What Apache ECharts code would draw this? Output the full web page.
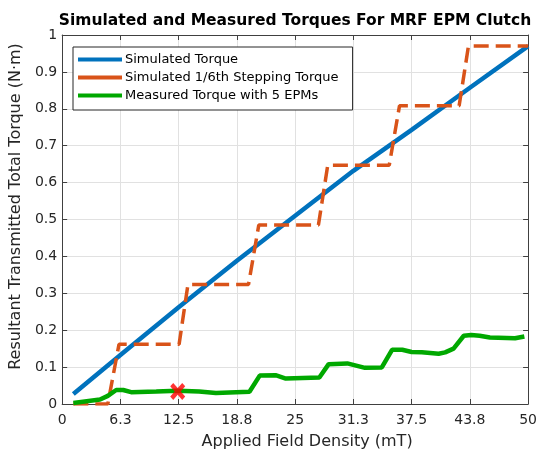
<!DOCTYPE html>
<html>
<head>
<meta charset="utf-8">
<script src="https://cdn.jsdelivr.net/npm/echarts@6/dist/echarts.min.js"></script>
<style>html,body{margin:0;padding:0;background:#fff;}#c{width:540px;height:455px;}</style>
</head>
<body>
<div id="c"></div>
<script>
// ---- data ----
const xTickLabels = ['0', '6.3', '12.5', '18.8', '25', '31.3', '37.5', '43.8', '50'];
const yTickLabels = ['0', '0.1', '0.2', '0.3', '0.4', '0.5', '0.6', '0.7', '0.8', '0.9', '1'];

const simX = [1.2, 6.25, 12.5, 18.75, 25, 31.25, 37.5, 43.75, 50];
const simY = [0.027, 0.133, 0.262, 0.388, 0.51, 0.632, 0.743, 0.857, 0.97];

const stepX = [1.2, 4.9, 6.1, 12.55, 13.5, 20.0, 21.1, 27.5, 28.5, 35.1, 36.2, 42.6, 43.6, 50];
const stepY = [0, 0, 0.162, 0.162, 0.324, 0.324, 0.485, 0.485, 0.647, 0.647, 0.808, 0.808, 0.97, 0.97];

const measX = [1.2, 4.06, 4.9, 5.8, 6.55, 7.4, 10.1, 12.4, 14.7, 16.5, 20.1, 21.2, 22.9, 24.0, 27.6, 28.6, 30.6, 32.5, 34.3, 35.4, 36.5, 37.5, 38.6, 40.4, 41.1, 42.0, 43.1, 43.9, 44.8, 45.9, 48.6, 49.6];
const measY = [0.003, 0.012, 0.022, 0.038, 0.038, 0.032, 0.034, 0.036, 0.034, 0.03, 0.033, 0.077, 0.078, 0.069, 0.072, 0.108, 0.11, 0.098, 0.099, 0.147, 0.147, 0.141, 0.14, 0.136, 0.14, 0.15, 0.185, 0.187, 0.185, 0.18, 0.178, 0.183];

const markX = [12.4];
const markY = [0.034];

const seriesNames = ['Simulated Torque', 'Simulated 1/6th Stepping Torque', 'Measured Torque with 5 EPMs'];
// ---- end data ----

const zip = (xs, ys) => xs.map((x, i) => [x, ys[i]]);
const FONT = 'DejaVu Sans';
const AX = '#404040';
const xInt = 6.25, yInt = 0.1;

const xPath = 'path://M0,20 L20,0 L50,30 L80,0 L100,20 L70,50 L100,80 L80,100 L50,70 L20,100 L0,80 L30,50 Z';

const baseX = {
  type: 'value', min: 0, max: 50, interval: xInt,
  axisLine: { show: true, onZero: false, lineStyle: { color: AX, width: 1 } },
  axisTick: { show: true, inside: true, length: 5, lineStyle: { color: AX } },
};
const baseY = {
  type: 'value', min: 0, max: 1, interval: yInt,
  axisLine: { show: true, onZero: false, lineStyle: { color: AX, width: 1 } },
  axisTick: { show: true, inside: true, length: 5, lineStyle: { color: AX } },
};

const chart = echarts.init(document.getElementById('c'), null, { renderer: 'canvas' });
chart.setOption({
  animation: false,
  backgroundColor: '#fff',
  title: {
    text: 'Simulated and Measured Torques For MRF EPM Clutch',
    left: 290, top: 8, textAlign: 'center',
    textStyle: { fontFamily: FONT, fontSize: 15.5, fontWeight: 'bold', color: '#000' }
  },
  grid: { left: 62, right: 10, top: 35, bottom: 50 },
  legend: {
    data: seriesNames,
    orient: 'vertical', left: 73, top: 47,
    icon: 'rect', itemWidth: 44, itemHeight: 4, itemGap: 5,
    padding: [6, 14, 8, 5],
    borderColor: '#262626', borderWidth: 1, backgroundColor: '#fff',
    textStyle: { fontFamily: FONT, fontSize: 13, color: '#000', padding: [0, 0, 0, -2] }
  },
  xAxis: [
    Object.assign({}, baseX, {
      position: 'bottom',
      name: 'Applied Field Density (mT)', nameLocation: 'middle', nameGap: 30,
      nameTextStyle: { fontFamily: FONT, fontSize: 16, color: '#262626', padding: [0, 0, 0, 24] },
      axisLabel: { fontFamily: FONT, fontSize: 14, color: '#262626', margin: 9,
        formatter: v => xTickLabels[Math.round(v / xInt)] },
      splitLine: { show: true, lineStyle: { color: '#e1e1e1', width: 1 } }
    }),
    Object.assign({}, baseX, { position: 'top', axisLabel: { show: false }, splitLine: { show: false } })
  ],
  yAxis: [
    Object.assign({}, baseY, {
      position: 'left',
      name: 'Resultant Transmitted Total Torque (N\u00b7m)', nameLocation: 'middle', nameGap: 36,
      nameTextStyle: { fontFamily: FONT, fontSize: 16, color: '#262626', padding: [0, 0, 0, 26] },
      axisLabel: { fontFamily: FONT, fontSize: 14, color: '#262626', margin: 5,
        formatter: v => yTickLabels[Math.round(v / yInt)] },
      splitLine: { show: true, lineStyle: { color: '#e1e1e1', width: 1 } }
    }),
    Object.assign({}, baseY, { position: 'right', axisLabel: { show: false }, splitLine: { show: false } })
  ],
  series: [
    {
      name: seriesNames[0], type: 'line', data: zip(simX, simY),
      showSymbol: false, symbol: 'none',
      itemStyle: { color: '#0072BD' },
      lineStyle: { color: '#0072BD', width: 4.5 }, z: 3
    },
    {
      name: seriesNames[1], type: 'line', data: zip(stepX, stepY),
      showSymbol: false, symbol: 'none',
      itemStyle: { color: '#D95319' },
      lineStyle: { color: '#D95319', width: 3.5, type: [15, 7] }, z: 4
    },
    {
      name: seriesNames[2], type: 'line', data: zip(measX, measY),
      showSymbol: false, symbol: 'none',
      itemStyle: { color: '#00A800' },
      lineStyle: { color: '#00A800', width: 4.5 }, z: 5
    },
    {
      name: 'marker', type: 'scatter', data: zip(markX, markY),
      symbol: xPath, symbolSize: [15, 17],
      itemStyle: { color: '#FF0000' }, z: 6
    }
  ]
});
</script>
</body>
</html>
